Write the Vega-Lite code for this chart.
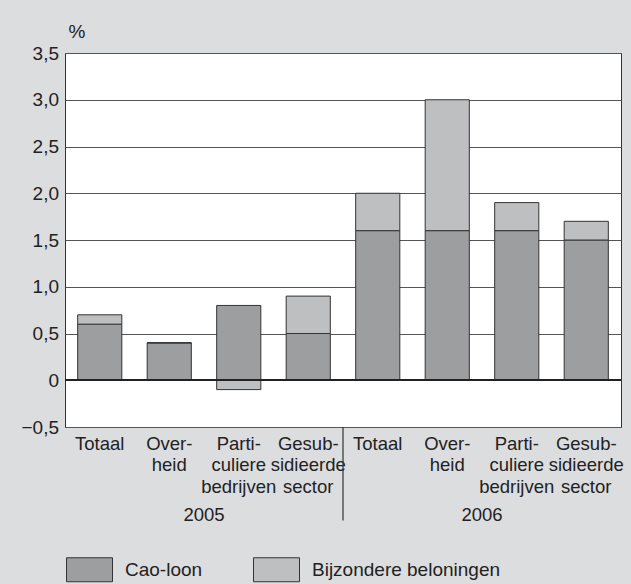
{
  "$schema": "https://vega.github.io/schema/vega-lite/v6.json",
  "width": 556,
  "height": 374,
  "autosize": {"type": "none"},
  "padding": {"left": 65, "top": 53, "right": 10, "bottom": 157},
  "background": "#dcdddf",
  "config": {
    "view": {"fill": "white", "stroke": "#333333", "strokeWidth": 1},
    "font": "Liberation Sans",
    "axis": {"labelFont": "Liberation Sans", "labelColor": "#222222", "titleFont": "Liberation Sans"},
    "legend": {"labelFont": "Liberation Sans"}
  },
  "datasets": {
    "bars": [
      {"bar": "2005|Totaal", "type": "Cao-loon", "value": 0.6},
      {"bar": "2005|Totaal", "type": "Bijzondere beloningen", "value": 0.1},
      {"bar": "2005|Over-|heid", "type": "Cao-loon", "value": 0.4},
      {"bar": "2005|Over-|heid", "type": "Bijzondere beloningen", "value": 0.0},
      {"bar": "2005|Parti-|culiere|bedrijven", "type": "Cao-loon", "value": 0.8},
      {"bar": "2005|Parti-|culiere|bedrijven", "type": "Bijzondere beloningen", "value": -0.1},
      {"bar": "2005|Gesub-|sidieerde|sector", "type": "Cao-loon", "value": 0.5},
      {"bar": "2005|Gesub-|sidieerde|sector", "type": "Bijzondere beloningen", "value": 0.4},
      {"bar": "2006|Totaal", "type": "Cao-loon", "value": 1.6},
      {"bar": "2006|Totaal", "type": "Bijzondere beloningen", "value": 0.4},
      {"bar": "2006|Over-|heid", "type": "Cao-loon", "value": 1.6},
      {"bar": "2006|Over-|heid", "type": "Bijzondere beloningen", "value": 1.4},
      {"bar": "2006|Parti-|culiere|bedrijven", "type": "Cao-loon", "value": 1.6},
      {"bar": "2006|Parti-|culiere|bedrijven", "type": "Bijzondere beloningen", "value": 0.3},
      {"bar": "2006|Gesub-|sidieerde|sector", "type": "Cao-loon", "value": 1.5},
      {"bar": "2006|Gesub-|sidieerde|sector", "type": "Bijzondere beloningen", "value": 0.2}
    ],
    "years": [{"year": "2006"}]
  },
  "layer": [
    {
      "data": {"name": "bars"},
      "layer": [
        {
          "mark": {"type": "bar", "stroke": "#333333", "strokeWidth": 1, "width": {"band": 0.635}, "opacity": 1},
          "encoding": {
            "x": {
              "field": "bar", "type": "nominal",
              "scale": {
                "domain": ["2005|Totaal", "2005|Over-|heid", "2005|Parti-|culiere|bedrijven", "2005|Gesub-|sidieerde|sector",
                           "2006|Totaal", "2006|Over-|heid", "2006|Parti-|culiere|bedrijven", "2006|Gesub-|sidieerde|sector"],
                "paddingInner": 0, "paddingOuter": 0
              },
              "axis": {
                "orient": "bottom", "title": null, "labelAngle": 0, "domain": false, "ticks": false,
                "labelExpr": "slice(split(datum.label, '|'), 1)",
                "labelFontSize": 18.5, "labelLineHeight": 21.7, "labelPadding": 7, "labelBaseline": "top"
              }
            },
            "y": {
              "field": "value", "type": "quantitative", "stack": "zero",
              "scale": {"domain": [-0.5, 3.5], "nice": false, "zero": false},
              "axis": {
                "title": "%", "titleAngle": 0, "titleAlign": "left", "titleBaseline": "alphabetic",
                "titleX": 3, "titleY": -16, "titleFontSize": 19, "titleFontWeight": "normal", "titleColor": "#222222",
                "values": [-0.5, 0, 0.5, 1, 1.5, 2, 2.5, 3, 3.5],
                "labelExpr": "datum.value == 0 ? '0' : replace(format(datum.value, '.1f'), '.', ',')",
                "labelFontSize": 19, "labelPadding": 6.5, "ticks": false, "domain": false,
                "grid": true, "gridColor": "#555555", "gridWidth": 1, "gridOpacity": 1
              }
            },
            "color": {
              "field": "type", "type": "nominal",
              "scale": {"domain": ["Cao-loon", "Bijzondere beloningen"], "range": ["#9d9ea0", "#bebfc1"]},
              "legend": {
                "title": null, "orient": "none", "legendX": 1, "legendY": 493, "direction": "horizontal",
                "symbolType": "M-1,-0.5217H1V0.5217H-1Z", "symbolSize": 2116,
                "symbolStrokeColor": "#333333", "symbolStrokeWidth": 1, "symbolOpacity": 1,
                "labelFontSize": 19, "labelColor": "#222222", "labelOffset": 12, "columnPadding": 48,
                "labelLimit": 400
              }
            },
            "order": {"field": "type", "sort": "descending"}
          }
        },
        {
          "mark": {"type": "rule", "color": "#222222", "strokeWidth": 1.3},
          "encoding": {"y": {"datum": 0}}
        }
      ]
    },
    {
      "data": {"name": "years"},
      "mark": {"type": "rule", "color": "#333333", "strokeWidth": 1.2},
      "encoding": {
        "x": {
          "field": "year", "type": "nominal", "bandPosition": 0,
          "scale": {"domain": ["2005", "2006"], "paddingInner": 0, "paddingOuter": 0},
          "axis": {
            "orient": "bottom", "title": null, "domain": false, "ticks": false, "grid": false,
            "labelAngle": 0, "labelFontSize": 18.5, "labelPadding": 78, "labelBaseline": "top"
          }
        },
        "y": {"datum": -0.5},
        "y2": {"datum": -1.5}
      }
    }
  ],
  "resolve": {"scale": {"x": "independent"}, "axis": {"x": "independent"}}
}
